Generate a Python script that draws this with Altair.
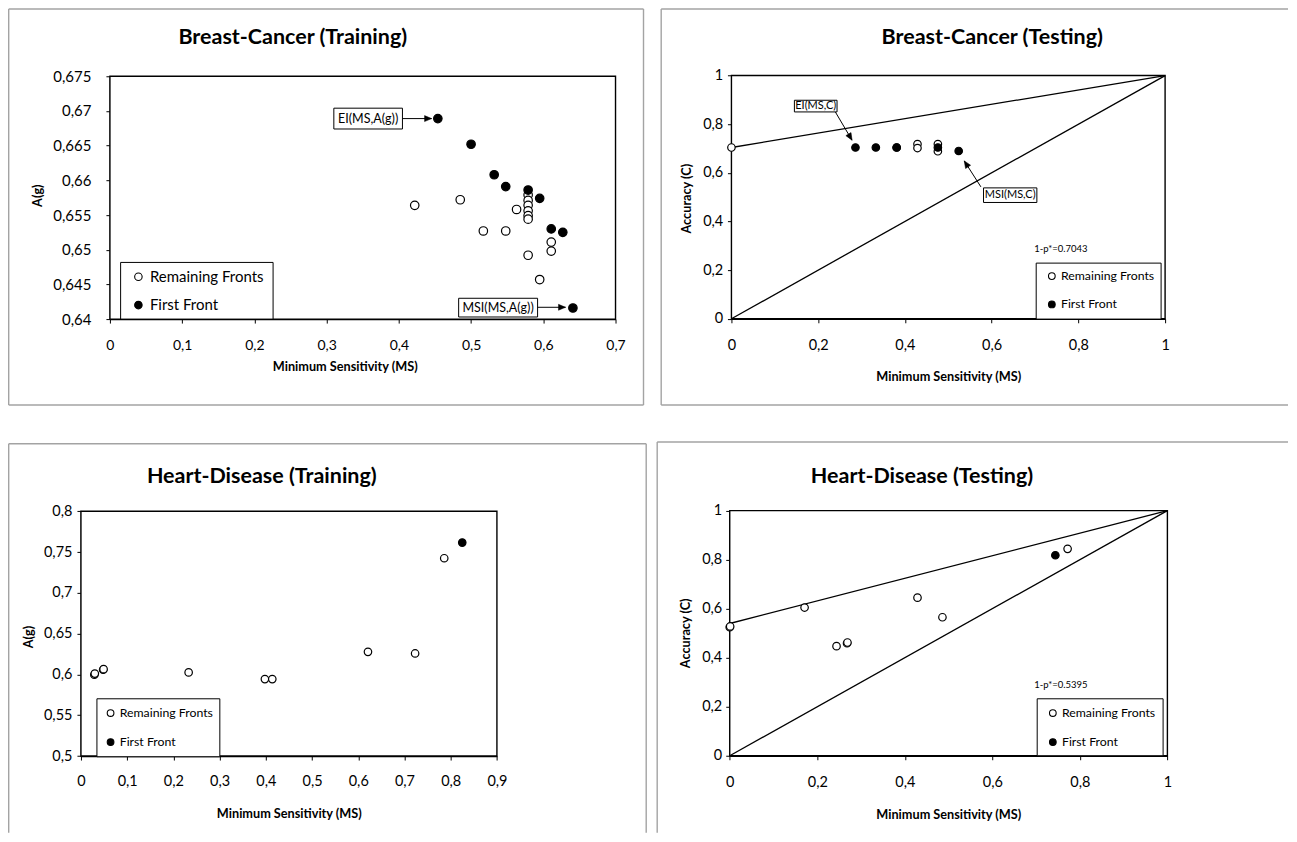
import altair as alt
import pandas as pd

REM = "Remaining Fronts"
FIRST = "First Front"
FONT = "Lato"

# ---------------- Breast-Cancer (Training) ----------------
BCTR_REM_MS = [0.422, 0.485, 0.517, 0.548, 0.563, 0.579, 0.579, 0.579, 0.579, 0.579, 0.579, 0.579, 0.611, 0.611, 0.595]
BCTR_REM_AG = [0.6564, 0.6572, 0.6527, 0.6527, 0.6558, 0.6579, 0.6571, 0.6564, 0.6556, 0.6549, 0.6544, 0.6492, 0.6511, 0.6498, 0.6457]
BCTR_FIRST_MS = [0.454, 0.500, 0.532, 0.548, 0.579, 0.595, 0.611, 0.627, 0.641]
BCTR_FIRST_AG = [0.6689, 0.6652, 0.6608, 0.6591, 0.6586, 0.6574, 0.6530, 0.6525, 0.6416]
BCTR_XTICKS = [0, 0.1, 0.2, 0.3, 0.4, 0.5, 0.6, 0.7]
BCTR_YTICKS = [0.64, 0.645, 0.65, 0.655, 0.66, 0.665, 0.67, 0.675]
BCTR_BOX_LABELS = ["EI(MS,A(g))", "MSI(MS,A(g))"]
BCTR_BOX_X0 = [0.310, 0.4828]
BCTR_BOX_X1 = [0.405, 0.5921]
BCTR_BOX_Y0 = [0.6674, 0.6403]
BCTR_BOX_Y1 = [0.6704, 0.6430]
BCTR_ARROW_X0 = [0.405, 0.5921]
BCTR_ARROW_Y0 = [0.6689, 0.6417]
BCTR_ARROW_X1 = [0.4454, 0.6308]
BCTR_ARROW_Y1 = [0.6689, 0.6417]

# ---------------- Breast-Cancer (Testing) ----------------
BCTE_REM_MS = [0.0, 0.381, 0.429, 0.429, 0.476, 0.476]
BCTE_REM_ACC = [0.7043, 0.7043, 0.7183, 0.7020, 0.7183, 0.6887]
BCTE_FIRST_MS = [0.286, 0.333, 0.381, 0.476, 0.524]
BCTE_FIRST_ACC = [0.7043, 0.7043, 0.7043, 0.7043, 0.6900]
BCTE_P = 0.7043
BCTE_XTICKS = [0, 0.2, 0.4, 0.6, 0.8, 1]
BCTE_YTICKS = [0, 0.2, 0.4, 0.6, 0.8, 1]
BCTE_BOX_LABELS = ["EI(MS,C)", "MSI(MS,C)"]
BCTE_BOX_X0 = [0.1452, 0.5813]
BCTE_BOX_X1 = [0.2435, 0.7043]
BCTE_BOX_Y0 = [0.8505, 0.4782]
BCTE_BOX_Y1 = [0.8985, 0.5382]
BCTE_ARROW_X0 = [0.2396, 0.5753]
BCTE_ARROW_Y0 = [0.8505, 0.5423]
BCTE_ARROW_X1 = [0.2781, 0.5369]
BCTE_ARROW_Y1 = [0.7342, 0.6491]
BCTE_NOTE = "1-p*=0.7043"
BCTE_NOTE_X = 0.698
BCTE_NOTE_Y = 0.2864

# ---------------- Heart-Disease (Training) ----------------
HDTR_REM_MS = [0.029, 0.030, 0.048, 0.049, 0.233, 0.398, 0.414, 0.621, 0.723, 0.786]
HDTR_REM_AG = [0.5996, 0.6010, 0.6057, 0.6065, 0.6025, 0.5943, 0.5943, 0.6277, 0.6257, 0.7424]
HDTR_FIRST_MS = [0.825]
HDTR_FIRST_AG = [0.7616]
HDTR_XTICKS = [0, 0.1, 0.2, 0.3, 0.4, 0.5, 0.6, 0.7, 0.8, 0.9]
HDTR_YTICKS = [0.5, 0.55, 0.6, 0.65, 0.7, 0.75, 0.8]

# ---------------- Heart-Disease (Testing) ----------------
HDTE_REM_MS = [0.0, 0.001, 0.171, 0.244, 0.268, 0.269, 0.429, 0.486, 0.772]
HDTE_REM_ACC = [0.5245, 0.5275, 0.6046, 0.447, 0.459, 0.462, 0.645, 0.565, 0.844]
HDTE_FIRST_MS = [0.744]
HDTE_FIRST_ACC = [0.818]
HDTE_P = 0.5395
HDTE_XTICKS = [0, 0.2, 0.4, 0.6, 0.8, 1]
HDTE_YTICKS = [0, 0.2, 0.4, 0.6, 0.8, 1]
HDTE_NOTE = "1-p*=0.5395"
HDTE_NOTE_X = 0.6957
HDTE_NOTE_Y = 0.2866

LABEL_EXPR = "replace(format(datum.value, '~g'), '.', ',')"
GRAY = "#a3a3a3"
TITLE_FS = 21.5
AXIS_TITLE_FS = 12.7


def one_row():
    return pd.DataFrame({"k": [0]})


def make_panel(cfg):
    L, R, T, B = cfg["plot"]
    W, H = cfg["size"]
    xs = alt.Scale(domain=cfg["xdom"], range=[L, R], nice=False, zero=False)
    ys = alt.Scale(domain=cfg["ydom"], range=[B, T], nice=False, zero=False)
    xaxis = alt.Axis(
        orient="bottom", values=cfg["xticks"], labelExpr=LABEL_EXPR, offset=B - H,
        title=cfg["xtitle"], titleX=cfg["xtitle_pos"][0], titleY=cfg["xtitle_pos"][1] - B,
        titleAlign="center", titleBaseline="middle", titleFont=FONT, titleFontSize=AXIS_TITLE_FS,
        titleFontWeight="bold", titleColor="black",
        labelFont=FONT, labelFontSize=cfg["tick_fs"], labelColor="black",
        labelBaseline="middle", labelPadding=cfg["xlabel_pad"], labelFlush=False,
        labelOverlap=False, labelBound=False,
        tickSize=4, tickColor="black", tickWidth=1, domainColor="black", domainWidth=1.4,
        grid=False,
    )
    yaxis = alt.Axis(
        orient="left", values=cfg["yticks"], labelExpr=LABEL_EXPR, offset=-L,
        title=cfg["ytitle"], titleX=cfg["ytitle_pos"][0] - L, titleY=cfg["ytitle_pos"][1],
        titleAngle=270, titleAlign="center", titleBaseline="middle", titleFont=FONT,
        titleFontSize=AXIS_TITLE_FS, titleFontWeight="bold", titleColor="black",
        labelFont=FONT, labelFontSize=cfg["ytick_fs"], labelColor="black",
        labelAlign="right", labelBaseline="middle", labelPadding=cfg["ylabel_pad"],
        labelFlush=False, labelOverlap=False, labelBound=False,
        tickSize=4, tickColor="black", tickWidth=1, domainColor="black", domainWidth=1.4,
        grid=False,
    )

    def X(field):
        return alt.X(field, type="quantitative", scale=xs, axis=xaxis)

    def Y(field):
        return alt.Y(field, type="quantitative", scale=ys, axis=yaxis)

    layers = []

    # outer gray chart-area frame
    for (x0, x1, y0, y1) in cfg["gray"]:
        layers.append(
            alt.Chart(one_row()).mark_rule(color=GRAY, strokeWidth=1.4).encode(
                x=alt.value(x0), x2=alt.value(x1), y=alt.value(y0), y2=alt.value(y1)
            )
        )

    # plot-area frame from the axis domains
    frame_df = pd.DataFrame({
        "x0": [cfg["xdom"][0]], "x1": [cfg["xdom"][1]],
        "y0": [cfg["ydom"][0]], "y1": [cfg["ydom"][1]],
    })
    layers.append(
        alt.Chart(frame_df).mark_rect(fill="white", stroke="black", strokeWidth=1.4).encode(
            x=X("x0"), x2="x1", y=Y("y0"), y2="y1"
        )
    )

    # legend box
    lx0, ly0, lx1, ly1 = cfg["legend_box"]
    layers.append(
        alt.Chart(one_row()).mark_rect(fill="white", stroke="black", strokeWidth=1).encode(
            x=alt.value(lx0), x2=alt.value(lx1), y=alt.value(ly0), y2=alt.value(ly1)
        )
    )

    # reference lines
    if cfg.get("p") is not None:
        lines_df = pd.DataFrame({
            "x0": [0.0, 0.0], "y0": [cfg["p"], 0.0], "x1": [1.0, 1.0], "y1": [1.0, 1.0]
        })
        layers.append(
            alt.Chart(lines_df).mark_rule(color="black", strokeWidth=1.3).encode(
                x=X("x0"), y=Y("y0"), x2="x1", y2="y1"
            )
        )

    # annotations
    if cfg.get("boxes") is not None:
        bx = cfg["boxes"]
        box_df = pd.DataFrame({
            "label": bx["labels"], "x0": bx["x0"], "x1": bx["x1"], "y0": bx["y0"], "y1": bx["y1"],
        })
        box_df["xc"] = (box_df["x0"] + box_df["x1"]) / 2
        box_df["yc"] = (box_df["y0"] + box_df["y1"]) / 2
        layers.append(
            alt.Chart(box_df).mark_rect(fill="white", stroke="black", strokeWidth=1).encode(
                x=X("x0"), x2="x1", y=Y("y0"), y2="y1"
            )
        )
        layers.append(
            alt.Chart(box_df).mark_text(font=FONT, fontSize=bx["fs"], color="black",
                                        align="center", baseline="middle").encode(
                x=X("xc"), y=Y("yc"), text="label:N"
            )
        )
        ar = cfg["arrows"]
        arrow_df = pd.DataFrame({"x0": ar["x0"], "y0": ar["y0"], "x1": ar["x1"], "y1": ar["y1"]})
        layers.append(
            alt.Chart(arrow_df).mark_rule(color="black", strokeWidth=1).encode(
                x=X("x0"), y=Y("y0"), x2="x1", y2="y1"
            )
        )
        for i, ang in enumerate(ar["angles"]):
            tip_df = arrow_df.iloc[[i]]
            layers.append(
                alt.Chart(tip_df).mark_point(
                    shape="M0,0L-0.42,1L0.42,1Z", filled=True, fill="black", stroke="black",
                    strokeWidth=0.5, size=200, angle=ang, opacity=1
                ).encode(x=X("x1"), y=Y("y1"))
            )

    if cfg.get("note") is not None:
        note_df = pd.DataFrame({"t": [cfg["note"]], "x": [cfg["note_x"]], "y": [cfg["note_y"]]})
        layers.append(
            alt.Chart(note_df).mark_text(font=FONT, fontSize=9.5, color="black",
                                         align="left", baseline="middle").encode(
                x=X("x"), y=Y("y"), text="t:N"
            )
        )

    # points
    pts = pd.DataFrame({
        "ms": cfg["rem_x"] + cfg["first_x"],
        "v": cfg["rem_y"] + cfg["first_y"],
        "front": [REM] * len(cfg["rem_x"]) + [FIRST] * len(cfg["first_x"]),
    })
    lg = cfg["legend"]
    layers.append(
        alt.Chart(pts).mark_point(
            shape="circle", filled=True, stroke="black", strokeWidth=1.2,
            size=cfg["pt_size"], opacity=1
        ).encode(
            x=X("ms"), y=Y("v"),
            fill=alt.Fill(
                "front:N",
                scale=alt.Scale(domain=[REM, FIRST], range=["white", "black"]),
                legend=alt.Legend(
                    orient="none", legendX=lg["x"], legendY=lg["y"], title=None,
                    direction="vertical", symbolType="circle", symbolSize=lg["sym"],
                    symbolStrokeColor="black", symbolStrokeWidth=1.1,
                    labelFont=FONT, labelFontSize=lg["fs"], labelColor="black",
                    labelOffset=lg["off"], rowPadding=lg["rowpad"], clipHeight=lg["clip"],
                    padding=0, labelLimit=400,
                ),
            ),
        )
    )

    # title
    tx, ty = cfg["title_pos"]
    layers.append(
        alt.Chart(one_row()).mark_text(
            font=FONT, fontSize=TITLE_FS, fontWeight="bold", color="black",
            align="center", baseline="middle"
        ).encode(x=alt.value(tx), y=alt.value(ty), text=alt.value(cfg["title"]))
    )

    return alt.layer(*layers).properties(
        width=W, height=H,
        view=alt.ViewBackground(stroke="transparent", strokeWidth=0, strokeOpacity=0),
    )


W_LEFT, W_RIGHT = 640, 628
H_TOP, H_BOTTOM = 398, 390

p1 = make_panel(dict(
    title="Breast-Cancer (Training)", title_pos=(285, 30),
    size=(W_LEFT, H_TOP), plot=(102, 608, 68, 311),
    xdom=[0, 0.7], ydom=[0.64, 0.675], xticks=BCTR_XTICKS, yticks=BCTR_YTICKS,
    xtitle="Minimum Sensitivity (MS)", xtitle_pos=(337, 358.7),
    ytitle="A(g)", ytitle_pos=(29.7, 187),
    tick_fs=14, ytick_fs=15, xlabel_pad=22, ylabel_pad=15,
    gray=[(0.7, 636, 0.7, 0.7), (0.7, 0.7, 0.7, 397), (636, 636, 0.7, 397), (0.7, 636, 397, 397)],
    legend_box=(112.7, 254.3, 265.3, 311),
    legend=dict(x=123, y=260.7, sym=56, fs=15, off=4, rowpad=12.3, clip=16),
    rem_x=BCTR_REM_MS, rem_y=BCTR_REM_AG, first_x=BCTR_FIRST_MS, first_y=BCTR_FIRST_AG,
    pt_size=72,
    boxes=dict(labels=BCTR_BOX_LABELS, x0=BCTR_BOX_X0, x1=BCTR_BOX_X1, y0=BCTR_BOX_Y0,
               y1=BCTR_BOX_Y1, fs=12.5),
    arrows=dict(x0=BCTR_ARROW_X0, y0=BCTR_ARROW_Y0, x1=BCTR_ARROW_X1, y1=BCTR_ARROW_Y1,
                angles=[90, 90]),
))

p2 = make_panel(dict(
    title="Breast-Cancer (Testing)", title_pos=(332, 30),
    size=(W_RIGHT, H_TOP), plot=(71, 505, 67.3, 310.7),
    xdom=[0, 1], ydom=[0, 1], xticks=BCTE_XTICKS, yticks=BCTE_YTICKS,
    xtitle="Minimum Sensitivity (MS)", xtitle_pos=(288, 368.7),
    ytitle="Accuracy (C)", ytitle_pos=(25.7, 190),
    tick_fs=14.5, ytick_fs=14.5, xlabel_pad=23, ylabel_pad=4.7,
    gray=[(0.7, W_RIGHT, 0.7, 0.7), (0.7, 0.7, 0.7, 397), (0.7, W_RIGHT, 397, 397)],
    legend_box=(376, 255, 501, 311),
    legend=dict(x=385.5, y=260, sym=45, fs=12.3, off=3, rowpad=12.3, clip=16),
    rem_x=BCTE_REM_MS, rem_y=BCTE_REM_ACC, first_x=BCTE_FIRST_MS, first_y=BCTE_FIRST_ACC,
    pt_size=56, p=BCTE_P,
    boxes=dict(labels=BCTE_BOX_LABELS, x0=BCTE_BOX_X0, x1=BCTE_BOX_X1, y0=BCTE_BOX_Y0,
               y1=BCTE_BOX_Y1, fs=11),
    arrows=dict(x0=BCTE_ARROW_X0, y0=BCTE_ARROW_Y0, x1=BCTE_ARROW_X1, y1=BCTE_ARROW_Y1,
                angles=[149.5, 327.3]),
    note=BCTE_NOTE, note_x=BCTE_NOTE_X, note_y=BCTE_NOTE_Y,
))

p3 = make_panel(dict(
    title="Heart-Disease (Training)", title_pos=(254, 34),
    size=(W_LEFT, H_BOTTOM), plot=(73, 489.3, 68.3, 313.3),
    xdom=[0, 0.9], ydom=[0.5, 0.8], xticks=HDTR_XTICKS, yticks=HDTR_YTICKS,
    xtitle="Minimum Sensitivity (MS)", xtitle_pos=(281, 371),
    ytitle="A(g)", ytitle_pos=(21, 193.7),
    tick_fs=14.5, ytick_fs=14.5, xlabel_pad=21.7, ylabel_pad=5,
    gray=[(0.7, 638.7, 0.7, 0.7), (0.7, 0.7, 0.7, H_BOTTOM), (638.7, 638.7, 0.7, H_BOTTOM)],
    legend_box=(89, 256, 212, 314),
    legend=dict(x=96.5, y=262.3, sym=45, fs=12.3, off=3, rowpad=13, clip=16),
    rem_x=HDTR_REM_MS, rem_y=HDTR_REM_AG, first_x=HDTR_FIRST_MS, first_y=HDTR_FIRST_AG,
    pt_size=56,
))

p4 = make_panel(dict(
    title="Heart-Disease (Testing)", title_pos=(261.7, 34),
    size=(W_RIGHT, H_BOTTOM), plot=(69.3, 507.3, 67.7, 313),
    xdom=[0, 1], ydom=[0, 1], xticks=HDTE_XTICKS, yticks=HDTE_YTICKS,
    xtitle="Minimum Sensitivity (MS)", xtitle_pos=(288, 372),
    ytitle="Accuracy (C)", ytitle_pos=(25, 190),
    tick_fs=14.5, ytick_fs=14.5, xlabel_pad=23, ylabel_pad=4,
    gray=[(-3.3, W_RIGHT, -1, -1), (-3.3, -3.3, -1, H_BOTTOM)],
    legend_box=(377, 256, 503, 313),
    legend=dict(x=386.5, y=262.3, sym=45, fs=12.3, off=3, rowpad=13, clip=16),
    rem_x=HDTE_REM_MS, rem_y=HDTE_REM_ACC, first_x=HDTE_FIRST_MS, first_y=HDTE_FIRST_ACC,
    pt_size=56, p=HDTE_P,
    note=HDTE_NOTE, note_x=HDTE_NOTE_X, note_y=HDTE_NOTE_Y,
))

chart = alt.concat(
    p1, p2, p3, p4, columns=2, spacing={"row": 37, "column": 13}
).properties(
    bounds="flush", align="all", padding=0
).resolve_scale(
    x="independent", y="independent", fill="independent"
).resolve_legend(
    fill="independent"
).resolve_axis(
    x="independent", y="independent"
).configure_view(
    stroke="transparent", strokeWidth=0
).configure(background="white")

chart.save("out.html", embed_options={"renderer": "svg", "actions": False})
